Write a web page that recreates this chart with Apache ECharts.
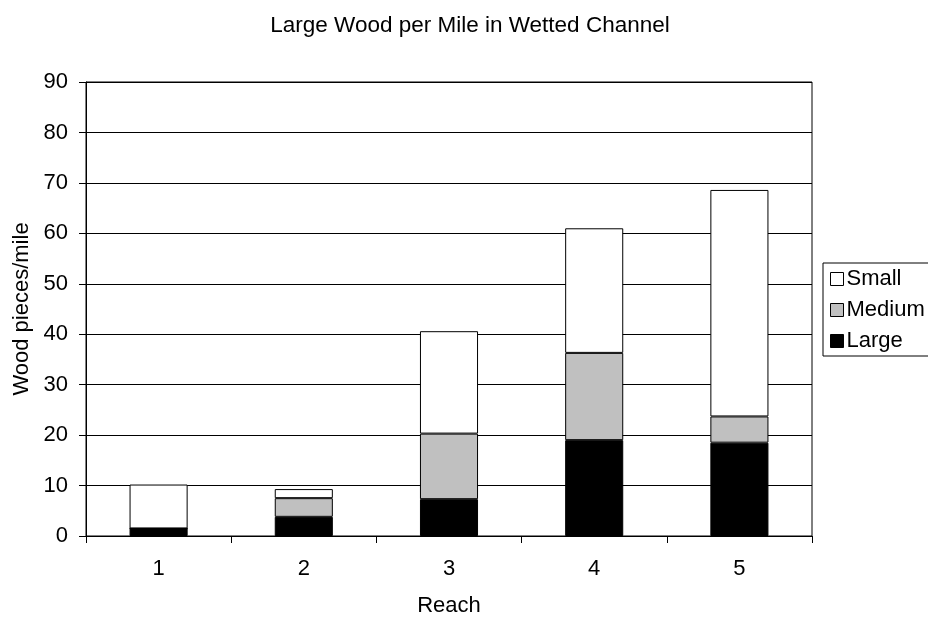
<!DOCTYPE html>
<html><head><meta charset="utf-8">
<script src="https://cdn.jsdelivr.net/npm/echarts@6/dist/echarts.min.js"></script>
<style>html,body{margin:0;padding:0;background:#fff}#c{width:928px;height:617px}</style>
</head><body><div id="c"></div>
<script>
const categories = ['1', '2', '3', '4', '5'];
const large = [1.5, 3.8, 7.3, 19.0, 18.5];
const medium = [0, 3.7, 13.0, 17.3, 5.2];
const small = [8.7, 1.8, 20.3, 24.7, 44.9];
const yTicks = [0, 10, 20, 30, 40, 50, 60, 70, 80, 90];

const FONT = '"Liberation Sans", Arial, sans-serif';
const FS = 22;
const chart = echarts.init(document.getElementById('c'), null, {renderer: 'canvas'});
const barStyle = (c) => ({color: c, borderColor: '#000', borderWidth: 1});
chart.setOption({
  animation: false,
  backgroundColor: '#fff',
  textStyle: {fontFamily: FONT, color: '#000'},
  title: {
    text: 'Large Wood per Mile in Wetted Channel',
    left: 465, top: 9, textAlign: 'center',
    textStyle: {fontFamily: FONT, fontSize: 22.5, fontWeight: 'normal', color: '#000'}
  },
  legend: {
    orient: 'vertical', left: 823, top: 263,
    data: ['Small', 'Medium', 'Large'],
    icon: 'rect', itemWidth: 13, itemHeight: 13, itemGap: 9,
    borderColor: '#000', borderWidth: 1, padding: [5, 20, 4, 7],
    itemStyle: {borderColor: '#000', borderWidth: 1},
    textStyle: {fontFamily: FONT, fontSize: FS, color: '#000', padding: [0, 0, 0, -2]}
  },
  grid: {left: 86, right: 116, top: 82, bottom: 81, show: true, borderColor: '#000', borderWidth: 1,
         containLabel: false, outerBoundsMode: 'none'},
  xAxis: {
    type: 'category', data: categories,
    name: 'Reach', nameLocation: 'middle', nameGap: 59,
    nameTextStyle: {fontFamily: FONT, fontSize: FS, color: '#000'},
    axisLine: {lineStyle: {color: '#000', width: 1}},
    axisTick: {show: true, alignWithLabel: false, length: 7, lineStyle: {color: '#000'}},
    axisLabel: {fontFamily: FONT, fontSize: FS, color: '#000', margin: 22}
  },
  yAxis: {
    type: 'value', min: yTicks[0], max: yTicks[yTicks.length - 1], interval: 10,
    name: 'Wood pieces/mile', nameLocation: 'middle', nameGap: 52,
    nameTextStyle: {fontFamily: FONT, fontSize: FS, color: '#000'},
    axisLine: {show: true, lineStyle: {color: '#000', width: 1}},
    axisTick: {show: true, length: 7, lineStyle: {color: '#000'}},
    axisLabel: {fontFamily: FONT, fontSize: FS, color: '#000', margin: 18},
    splitLine: {show: true, lineStyle: {color: '#000', width: 1}}
  },
  series: [
    {name: 'Large', type: 'bar', stack: 'w', data: large, barWidth: '40%', itemStyle: barStyle('#000000')},
    {name: 'Medium', type: 'bar', stack: 'w', data: medium, barWidth: '40%', itemStyle: barStyle('#c0c0c0')},
    {name: 'Small', type: 'bar', stack: 'w', data: small, barWidth: '40%', itemStyle: barStyle('#ffffff')}
  ]
});
</script></body></html>
